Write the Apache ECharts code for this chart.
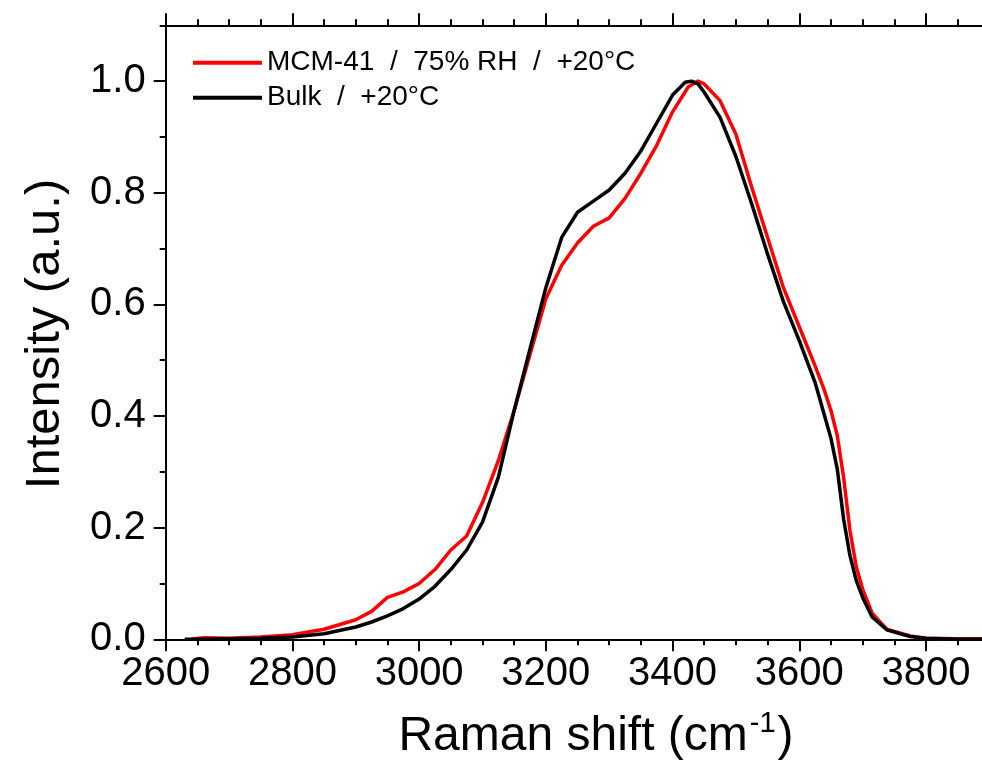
<!DOCTYPE html>
<html>
<head>
<meta charset="utf-8">
<script src="https://cdn.jsdelivr.net/npm/echarts@6/dist/echarts.min.js"></script>
<style>html,body{margin:0;padding:0;background:#fff;}#c{width:982px;height:762px;}</style>
</head>
<body>
<div id="c"></div>
<script>
// Raman shift (cm-1) and normalized intensity
const mcmShift = [2640,2660,2700,2750,2800,2850,2900,2925,2950,2975,3000,3025,3050,3075,3100,3125,3150,3175,3200,3225,3250,3275,3300,3325,3350,3375,3400,3425,3440,3450,3475,3500,3525,3550,3575,3600,3625,3640,3650,3660,3670,3680,3690,3700,3715,3738,3775,3800,3850,3900];
const mcmInt   = [0.0,0.003,0.002,0.004,0.008,0.018,0.035,0.05,0.075,0.085,0.10,0.125,0.16,0.185,0.245,0.32,0.41,0.51,0.61,0.67,0.71,0.74,0.755,0.79,0.835,0.885,0.945,0.99,1.0,0.995,0.965,0.905,0.81,0.72,0.63,0.56,0.49,0.445,0.41,0.365,0.29,0.195,0.13,0.09,0.047,0.018,0.006,0.002,0.001,0.001];
const bulkShift = [2630,2650,2700,2750,2800,2850,2900,2925,2950,2975,3000,3025,3050,3075,3100,3125,3150,3175,3200,3225,3250,3275,3300,3325,3350,3375,3400,3420,3430,3440,3450,3475,3500,3525,3550,3575,3600,3625,3640,3650,3660,3670,3680,3690,3700,3715,3738,3775,3800,3850,3900];
const bulkInt   = [0.0,0.0,0.001,0.002,0.004,0.010,0.022,0.031,0.042,0.055,0.072,0.095,0.125,0.16,0.21,0.29,0.41,0.52,0.63,0.72,0.765,0.785,0.805,0.835,0.875,0.925,0.975,0.998,1.0,0.995,0.98,0.935,0.865,0.78,0.69,0.605,0.535,0.46,0.40,0.36,0.305,0.215,0.15,0.105,0.075,0.04,0.017,0.005,0.002,0.0,0.0];
const seriesNames = ['MCM-41  /  75% RH  /  +20°C', 'Bulk  /  +20°C'];
const xTitle = ['Raman shift (cm', '-1', ')'];
const yTitle = 'Intensity (a.u.)';

const FONT = 'Liberation Sans, Arial, sans-serif';
const chart = echarts.init(document.getElementById('c'), null, {renderer: 'canvas'});
const pair = (xs, ys) => xs.map((x, i) => [x, ys[i]]);
const axisLine = {show: true, onZero: false, lineStyle: {color: '#000', width: 2}};
const tick = {show: true, length: 12, lineStyle: {width: 2, color: '#000'}};
chart.setOption({
  animation: false,
  backgroundColor: '#fff',
  grid: [
    {left: 165.7, right: -70.7, top: -30.5, bottom: 122.7, outerBoundsMode: 'none', containLabel: false},
    {left: 165.7, right: -70.7, top: 25.3, bottom: 122.7, outerBoundsMode: 'none', containLabel: false}
  ],
  legend: {
    orient: 'vertical', left: 188, top: 42.7, itemWidth: 69, itemHeight: 4, itemGap: 5,
    icon: 'rect', data: seriesNames,
    textStyle: {fontFamily: FONT, fontSize: 28, color: '#000', lineHeight: 30}
  },
  xAxis: [
    {type: 'value', gridIndex: 0, position: 'bottom', min: 2600, max: 4000, interval: 200,
     axisLine: axisLine, splitLine: {show: false}, axisTick: tick,
     minorTick: {show: true, splitNumber: 4, length: 6, lineStyle: {width: 2, color: '#000'}},
     axisLabel: {fontFamily: FONT, fontSize: 40, color: '#000', margin: 15, formatter: v => String(v)}},
    {type: 'value', gridIndex: 1, position: 'top', min: 2600, max: 4000, interval: 200,
     axisLine: axisLine, splitLine: {show: false}, axisTick: tick,
     minorTick: {show: true, splitNumber: 4, length: 6, lineStyle: {width: 2, color: '#000'}},
     axisLabel: {show: false}}
  ],
  yAxis: [
    {type: 'value', gridIndex: 0, min: 0, max: 1.2, interval: 0.2,
     axisLine: {show: false}, splitLine: {show: false}, axisTick: tick,
     minorTick: {show: true, splitNumber: 2, length: 6, lineStyle: {width: 2, color: '#000'}},
     axisLabel: {fontFamily: FONT, fontSize: 40, color: '#000', margin: 20,
                 formatter: v => v.toFixed(1)}},
    {type: 'value', gridIndex: 1, min: 0, max: 1.1,
     axisLine: axisLine, axisTick: {show: false}, axisLabel: {show: false}, splitLine: {show: false}}
  ],
  series: [
    {name: seriesNames[0], type: 'line', xAxisIndex: 0, yAxisIndex: 0, showSymbol: false,
     data: pair(mcmShift, mcmInt), color: '#ff0000', lineStyle: {color: '#ff0000', width: 3.5}},
    {name: seriesNames[1], type: 'line', xAxisIndex: 0, yAxisIndex: 0, showSymbol: false,
     data: pair(bulkShift, bulkInt), color: '#000000', lineStyle: {color: '#000000', width: 3.5}}
  ],
  graphic: [
    {type: 'text', x: 596, y: 737,
     style: {text: '{a|' + xTitle[0] + '}{b|' + xTitle[1] + '}{a|' + xTitle[2] + '}',
             align: 'center', verticalAlign: 'middle', fill: '#000',
             rich: {a: {fontFamily: FONT, fontSize: 48, color: '#000'},
                    b: {fontFamily: FONT, fontSize: 29, color: '#000', verticalAlign: 'top', padding: [0, 2, 26, 2]}}}},
    {type: 'text', x: 45, y: 334, rotation: Math.PI / 2,
     style: {text: yTitle, align: 'center', verticalAlign: 'middle', fill: '#000',
             fontFamily: FONT, fontSize: 49}}
  ]
});
</script>
</body>
</html>
